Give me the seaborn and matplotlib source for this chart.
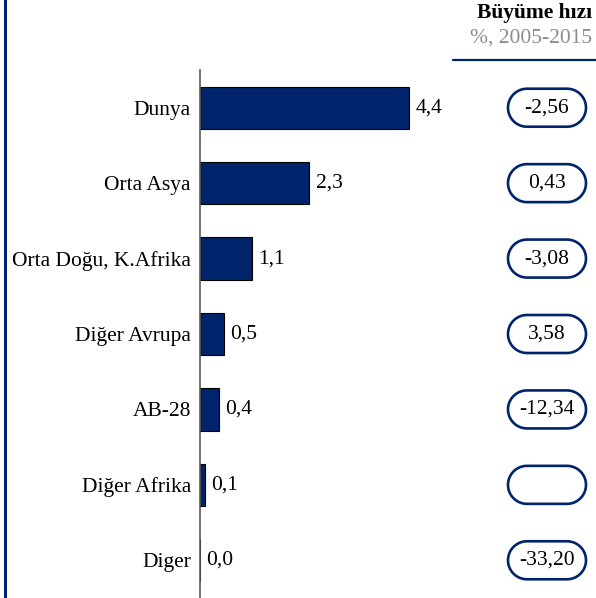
import matplotlib
matplotlib.use("Agg")
import matplotlib.pyplot as plt
from matplotlib.patches import PathPatch
from matplotlib.path import Path
from matplotlib.lines import Line2D
import numpy as np
import seaborn as sns
import pandas as pd

categories = ["Dunya", "Orta Asya", "Orta Doğu, K.Afrika", "Diğer Avrupa",
              "AB-28", "Diğer Afrika", "Diger"]
values = [4.4, 2.3, 1.1, 0.5, 0.4, 0.1, 0.0]
growth = ["-2,56", "0,43", "-3,08", "3,58", "-12,34", "", "-33,20"]
header_title = "Büyüme hızı"
header_sub = "%, 2005-2015"

NAVY = "#00246b"
W, H = 596, 598

sns.set_theme(style="white")
plt.rcParams["font.family"] = ["Liberation Serif", "DejaVu Serif"]
FS = 15.5

df = pd.DataFrame({"region": categories, "value": values})

fig = plt.figure(figsize=(W / 100, H / 100), dpi=100)

# main bar axes
ax = fig.add_axes([200 / W, 0, (W - 200) / W, 528 / H])
sns.barplot(data=df, x="value", y="region", orient="h", color=NAVY,
            saturation=1, edgecolor="black", linewidth=0.8, width=0.56, ax=ax)
ax.set_xlim(0, (W - 200) / 47.6)
ax.set_ylim(6.5, -0.5)
ax.set_xlabel("")
ax.set_ylabel("")
ax.set_xticks([])
for side in ["top", "right", "bottom"]:
    ax.spines[side].set_visible(False)
ax.spines["left"].set_color("#5a5a5a")
ax.spines["left"].set_linewidth(1.2)
ax.tick_params(axis="y", length=0, pad=6.5, labelsize=FS, labelcolor="black")
ax.patch.set_alpha(0)

labels = [f"{v:.1f}".replace(".", ",") for v in values]
ax.bar_label(ax.containers[0], labels=labels, padding=4.5, fontsize=FS, color="black")

# growth-rate pills on the right, equal x/y scaling for round ends
ax2 = fig.add_axes([500 / W, 0, 96 / W, 528 / H])
unit = 528 / 7.0
ax2.set_xlim(0, 96 / unit)
ax2.set_ylim(6.5, -0.5)
ax2.axis("off")
pw, ph = 78 / unit, 38 / unit
cx = 47 / unit
r = ph / 2


def pill(xc, yc, w, rad):
    t1 = np.linspace(np.pi / 2, 3 * np.pi / 2, 40)
    t2 = np.linspace(-np.pi / 2, np.pi / 2, 40)
    left = np.column_stack([xc - w / 2 + rad + rad * np.cos(t1), yc + rad * np.sin(t1)])
    right = np.column_stack([xc + w / 2 - rad + rad * np.cos(t2), yc + rad * np.sin(t2)])
    verts = np.vstack([left, right, left[:1]])
    codes = [Path.MOVETO] + [Path.LINETO] * (len(verts) - 2) + [Path.CLOSEPOLY]
    return Path(verts, codes)


for i, g in enumerate(growth):
    ax2.add_patch(PathPatch(pill(cx, i, pw, r), facecolor="white",
                            edgecolor=NAVY, linewidth=1.9))
    ax2.text(cx, i, g, ha="center", va="center", fontsize=FS, color="black")

# header
fig.text(592 / W, 1 - 13 / H, header_title, ha="right", va="center",
         fontsize=FS, fontweight="bold", color="black")
fig.text(592 / W, 1 - 38 / H, header_sub, ha="right", va="center",
         fontsize=FS, color="#8c8c8c")
fig.add_artist(Line2D([453 / W, 1], [1 - 60 / H, 1 - 60 / H],
                      transform=fig.transFigure, color=NAVY, linewidth=1.6))

# left frame rule
fig.add_artist(Line2D([4.5 / W, 4.5 / W], [0, 1], transform=fig.transFigure,
                      color=NAVY, linewidth=2.2))

fig.savefig("out.png", dpi=100)
